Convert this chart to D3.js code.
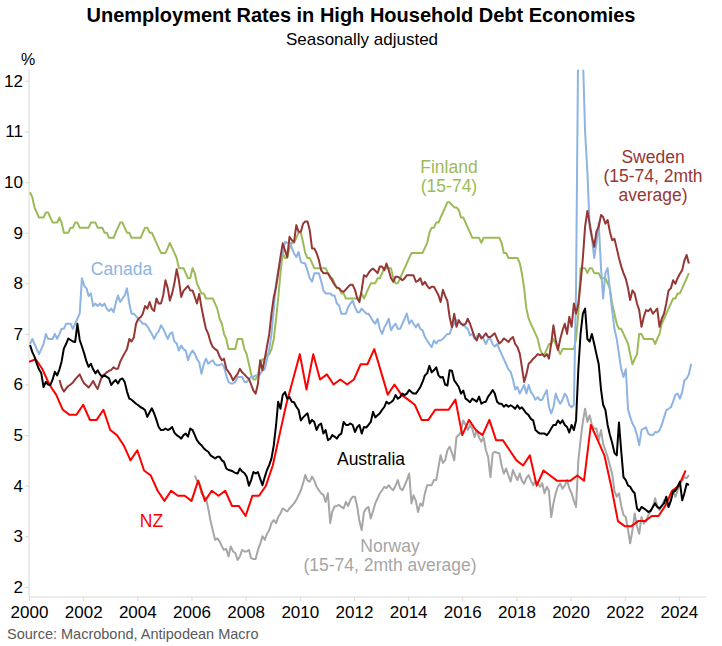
<!DOCTYPE html>
<html><head><meta charset="utf-8">
<script src="https://cdn.jsdelivr.net/npm/d3@7"></script>
<style>
body{margin:0;background:#fff}
text{font-family:"Liberation Sans",Arial,Helvetica,sans-serif}
</style>
</head><body>
<svg id="chart" width="722" height="646"></svg>
<script>
// ---------- DATA ----------
// Monthly series: first value = month given by *Start (year, month 1-12)
const australiaStart = [2000, 1];
const australia = [
6.78,6.64,6.55,6.41,6.3,6.22,5.95,6.05,6.0,5.99,6.1,6.25,
6.18,6.3,6.45,6.71,6.8,6.91,6.88,6.85,6.84,7.2,6.88,6.75,
6.61,6.45,6.35,6.41,6.3,6.22,6.28,6.2,6.15,6.18,6.15,6.12,
5.99,6.05,6.09,6.02,6.1,6.12,6.05,5.86,5.72,5.7,5.66,5.62,
5.59,5.55,5.53,5.49,5.36,5.45,5.53,5.43,5.3,5.16,5.1,5.1,
5.13,5.1,5.12,5.16,5.05,5.0,4.97,4.93,5.0,5.03,4.97,5.13,
5.1,5.0,4.9,4.84,4.8,4.74,4.7,4.67,4.6,4.57,4.54,4.57,
4.57,4.5,4.47,4.34,4.31,4.3,4.28,4.25,4.24,4.34,4.28,4.25,
4.18,4.0,4.11,4.27,4.24,4.27,4.14,4.01,4.17,4.31,4.41,4.54,
4.8,5.2,5.66,5.52,5.79,5.85,5.72,5.75,5.66,5.65,5.56,5.5,
5.29,5.35,5.39,5.43,5.23,5.3,5.26,5.1,5.2,5.23,5.03,5.1,
4.9,4.93,5.0,4.97,4.93,5.0,5.03,5.26,5.2,5.2,5.23,5.2,
5.06,5.16,5.2,5.03,5.16,5.15,5.2,5.26,5.46,5.35,5.39,5.43,
5.5,5.56,5.66,5.62,5.65,5.69,5.79,5.72,5.75,5.82,5.79,5.82,
5.89,5.85,5.82,5.82,5.88,5.95,6.05,6.18,6.22,6.37,6.24,6.28,
6.34,6.18,6.14,6.15,6.0,5.98,6.28,6.27,6.08,6.02,5.95,5.82,
5.88,5.72,5.69,5.65,5.72,5.69,5.66,5.76,5.62,5.65,5.66,5.76,
5.82,5.89,5.82,5.66,5.62,5.62,5.56,5.6,5.56,5.59,5.56,5.52,
5.59,5.52,5.55,5.49,5.43,5.39,5.32,5.29,5.1,5.06,5.03,5.03,
5.03,5.0,5.05,5.13,5.2,5.2,5.29,5.23,5.29,5.2,5.16,5.05,
5.2,5.1,5.29,6.3,7.0,7.4,7.5,6.9,6.85,7.0,6.8,6.6,
6.4,5.9,5.6,5.5,5.2,5.0,4.85,4.65,4.6,5.25,4.67,4.17,
4.11,4.0,3.98,3.9,3.85,3.55,3.5,3.58,3.55,3.52,3.48,3.5,
3.58,3.65,3.58,3.55,3.6,3.65,3.78,3.58,3.7,3.88,3.9,3.98,
4.08,3.71,3.85,4.04,4.01
];

const canadaStart = [2000, 1];
const canada = [
6.8,6.9,6.8,6.7,6.6,6.7,6.8,7.0,6.9,6.9,6.9,7.0,
6.9,7.0,7.1,7.1,7.2,7.2,7.2,7.1,7.2,7.3,7.4,8.1,
7.95,7.9,7.75,7.8,7.55,7.6,7.55,7.6,7.55,7.6,7.5,7.45,
7.5,7.43,7.6,7.76,7.63,7.7,7.76,7.9,7.6,7.4,7.4,7.35,
7.3,7.25,7.2,7.2,7.15,7.07,7.0,6.9,7.0,7.05,7.17,7.1,
7.0,6.9,7.0,7.03,6.85,6.81,6.67,6.77,6.7,6.67,6.48,6.6,
6.67,6.61,6.5,6.44,6.21,6.4,6.51,6.41,6.45,6.48,6.4,6.38,
6.38,6.41,6.35,6.18,6.05,6.02,6.02,6.05,6.15,6.15,6.15,6.05,
6.05,6.1,6.15,6.15,6.18,6.18,6.2,6.28,6.3,6.5,6.7,7.0,
7.5,8.0,8.26,8.45,8.59,8.82,8.8,8.82,8.7,8.59,8.52,8.62,
8.42,8.4,8.39,8.25,8.1,8.03,8.2,8.2,8.2,8.05,7.86,7.8,
7.8,7.8,7.76,7.76,7.6,7.56,7.4,7.4,7.4,7.53,7.6,7.66,
7.53,7.43,7.43,7.5,7.45,7.4,7.4,7.33,7.25,7.2,7.3,7.1,
7.0,7.13,7.2,7.3,7.07,7.15,7.2,7.1,7.1,7.2,7.3,7.4,
7.2,7.27,7.2,7.13,7.2,7.1,7.07,6.94,6.87,6.8,6.74,6.87,
6.81,6.87,6.87,6.9,6.95,7.0,7.0,7.13,7.2,7.27,7.27,7.2,
7.2,7.13,7.1,6.97,7.0,6.9,6.95,7.0,6.95,6.9,6.8,6.9,
6.9,6.8,6.75,6.8,6.7,6.6,6.5,6.4,6.3,6.25,6.1,5.9,
5.95,5.82,5.9,5.99,5.82,5.99,5.85,5.79,5.7,5.75,5.69,5.7,
5.8,5.89,5.56,5.43,5.55,5.82,5.7,5.62,5.7,5.82,5.75,5.59,
5.55,5.6,7.9,13.1,13.7,12.5,11.0,10.2,9.1,8.9,8.5,8.8,
9.2,8.3,7.7,8.2,8.3,7.86,7.47,7.1,6.9,6.6,6.3,6.15,
6.3,5.5,5.36,5.23,5.15,5.0,4.8,5.1,5.13,5.15,5.03,5.0,
5.0,5.06,5.05,5.1,5.2,5.35,5.49,5.52,5.55,5.66,5.8,5.82,
5.72,5.85,6.08,6.12,6.2,6.41
];

const finlandStart = [2000, 1];
const finland = [
9.8,9.7,9.5,9.4,9.3,9.3,9.3,9.4,9.4,9.3,9.2,9.2,
9.2,9.3,9.2,9.0,9.0,9.0,9.1,9.1,9.2,9.2,9.1,9.1,
9.1,9.1,9.1,9.2,9.2,9.2,9.1,9.1,9.1,9.0,9.0,8.9,
8.9,8.9,9.0,9.1,9.2,9.2,9.1,9.0,9.0,8.9,8.9,8.9,
8.9,8.9,9.0,9.1,9.1,9.0,9.0,8.9,8.8,8.7,8.6,8.6,
8.6,8.7,8.8,8.7,8.6,8.5,8.3,8.3,8.3,8.2,8.1,8.1,
8.3,8.2,8.0,7.9,7.8,7.8,7.7,7.7,7.7,7.7,7.6,7.5,
7.3,7.2,7.0,6.9,6.7,6.7,6.7,6.7,6.9,6.9,6.9,6.7,
6.6,6.4,6.2,6.1,6.1,6.2,6.4,6.5,6.5,6.6,6.6,6.7,
6.9,7.3,7.7,8.2,8.6,8.5,8.5,8.7,8.8,8.8,8.9,9.0,
9.0,8.8,8.6,8.5,8.5,8.4,8.3,8.3,8.3,8.3,8.3,8.3,
8.2,8.1,8.1,8.0,7.9,7.9,7.8,7.8,7.7,7.7,7.7,7.7,
7.7,7.7,7.7,7.8,7.7,7.8,7.9,8.0,8.0,8.0,8.1,8.1,
8.2,8.3,8.3,8.3,8.3,8.1,8.0,8.0,8.1,8.2,8.3,8.4,
8.5,8.6,8.6,8.6,8.6,8.6,8.6,8.7,8.8,9.0,9.1,9.1,
9.2,9.2,9.3,9.4,9.5,9.6,9.6,9.55,9.5,9.5,9.45,9.3,
9.3,9.2,9.1,9.0,8.9,8.9,8.9,8.9,8.8,8.9,8.9,8.9,
8.9,8.9,8.9,8.9,8.9,8.8,8.6,8.6,8.5,8.5,8.5,8.5,
8.5,8.4,8.2,7.9,7.5,7.3,7.2,7.1,7.0,6.9,6.7,6.6,
6.6,6.7,6.8,6.8,6.9,6.8,6.7,6.6,6.7,6.7,6.7,6.7,
6.7,6.7,6.9,7.4,8.3,8.3,8.3,8.2,8.3,8.3,8.2,8.2,
8.2,8.1,8.1,8.1,8.0,7.9,7.6,7.4,7.2,7.1,7.1,7.0,
6.9,6.8,6.6,6.4,6.5,6.6,7.0,7.0,6.9,6.9,6.9,6.9,
6.9,6.8,6.9,7.0,7.2,7.3,7.4,7.5,7.6,7.7,7.7,7.8,
7.8,7.9,8.0,8.1,8.2
];

const swedenStart = [2001, 2];
const sweden = [
6.09,5.95,5.86,5.92,5.97,6.0,6.04,6.1,6.15,6.2,6.1,
6.02,5.98,5.94,6.0,6.07,5.98,5.91,6.05,6.17,6.2,6.24,6.27,
6.29,6.34,6.31,6.31,6.45,6.54,6.62,6.7,6.9,6.85,6.93,7.2,
7.3,7.33,7.4,7.55,7.5,7.63,7.5,7.45,7.7,7.6,7.6,7.76,
8.06,7.9,7.66,7.8,8.0,8.28,8.06,7.73,7.85,7.9,7.95,7.86,
7.86,7.73,7.6,7.79,7.53,7.3,7.1,7.0,6.84,6.74,6.7,6.67,
6.55,6.48,6.51,6.31,6.25,6.18,6.08,6.15,6.21,6.31,6.24,6.2,
6.15,6.11,6.0,5.88,5.82,6.01,6.48,6.28,6.51,6.75,7.0,7.4,
7.73,7.93,8.2,8.52,8.79,8.65,8.52,8.92,8.85,8.82,9.15,9.02,
9.02,9.18,9.22,9.22,9.05,8.69,8.69,8.6,8.46,8.26,8.2,8.2,
8.2,8.13,8.05,7.97,7.92,7.9,7.85,7.83,7.88,7.93,7.97,7.97,
7.87,7.7,7.63,7.87,8.16,8.13,8.2,8.26,8.29,8.25,8.2,8.33,
8.33,8.26,8.39,8.26,8.1,8.03,8.13,8.13,8.1,8.06,8.1,8.16,
8.16,8.16,8.16,8.03,8.05,8.1,7.97,8.03,7.95,7.9,7.93,7.93,
7.85,7.76,7.63,7.87,7.75,7.65,7.33,7.13,7.4,7.14,7.27,7.2,
7.17,7.2,7.3,7.2,7.07,6.94,6.87,7.0,6.91,6.95,7.01,6.94,
6.94,6.98,7.01,6.9,6.81,6.85,6.91,6.88,6.84,6.9,6.94,6.8,
6.74,6.61,6.35,6.05,6.2,6.41,6.45,6.51,6.55,6.6,6.58,6.6,
6.55,6.6,6.51,6.81,7.17,6.88,6.68,6.9,7.07,7.2,7.0,7.34,
7.14,7.6,7.4,7.6,8.0,8.5,9.12,9.43,9.18,8.92,8.72,9.02,
9.12,9.35,9.31,9.18,9.25,9.02,8.85,8.88,8.69,8.5,8.33,8.2,
8.09,7.9,7.67,7.86,7.8,7.6,7.47,7.14,7.34,7.47,7.45,7.5,
7.4,7.45,7.5,7.14,7.3,7.4,7.6,7.86,7.9,8.06,7.99,8.1,
8.19,8.26,8.45,8.56,8.39
];

const norwayStart = [2006, 2];
const norway = [
4.2,4.1,4.05,3.85,3.8,3.75,3.55,3.3,3.12,2.93,2.96,
2.9,2.8,2.73,2.75,2.6,2.8,2.7,2.67,2.53,2.6,2.73,2.7,
2.7,2.73,2.57,2.55,2.55,2.73,2.85,3.0,2.93,3.05,3.12,3.26,
3.32,3.26,3.38,3.45,3.55,3.52,3.49,3.55,3.6,3.65,3.72,3.81,
3.91,4.05,4.21,4.1,4.08,4.18,4.1,3.98,3.91,3.85,3.82,3.68,
3.85,3.26,3.49,3.59,3.6,3.62,3.58,3.55,3.68,3.6,3.72,3.78,
3.78,3.58,3.3,3.12,3.48,3.55,3.58,3.35,3.5,3.65,3.75,3.85,
3.91,3.98,3.95,4.01,3.95,3.91,4.0,4.11,3.95,3.91,4.0,4.11,
4.24,3.65,3.81,3.7,3.48,3.65,3.6,3.85,4.01,4.01,4.01,4.11,
4.11,4.37,4.6,4.45,4.5,4.7,4.77,4.65,4.5,4.96,5.0,5.06,
5.29,5.2,5.1,5.2,5.13,4.96,5.1,4.95,4.87,4.96,4.7,4.57,
4.17,4.64,4.67,4.65,4.64,4.4,4.24,4.34,4.2,4.08,4.31,4.2,
4.11,4.24,4.1,4.04,4.15,4.21,4.1,4.01,4.1,4.05,3.98,4.05,
3.85,3.98,3.9,3.38,3.65,3.85,3.98,4.04,3.94,4.0,4.11,3.95,
3.85,3.7,3.58,4.5,4.9,5.26,5.52,5.26,5.39,5.2,5.13,5.13,
4.9,5.1,4.83,4.7,4.57,4.4,4.24,3.9,3.78,3.85,3.6,3.42,
3.38,3.12,2.86,3.12,3.45,3.2,3.05,3.38,3.25,3.3,3.42,3.5,
3.58,3.75,3.6,3.52,3.6,3.71,3.65,3.58,3.75,3.91,3.78,3.9,
4.04,4.1,4.17,4.15,4.21
];

// Quarterly series: first value = quarter given by nzStart (year, quarter)
const nzStart = [1999, 4];
const nz = [
6.45,
6.5,6.3,6.0,5.8, 5.5,5.4,5.4,5.6, 5.3,5.3,5.5,5.1, 5.0,4.8,4.5,4.7,
4.3,4.2,3.9,3.7, 3.9,3.8,3.8,3.7, 4.1,3.7,3.9,3.8, 3.9,3.6,3.6,3.4,
3.8,3.8,4.0,4.4, 5.0,5.6,6.1,6.6, 5.9,6.6,6.1,6.2, 6.0,6.1,6.0,6.1,
6.4,6.4,6.7,6.25, 5.8,6.0,5.8,5.7, 5.6,5.3,5.3,5.5, 5.5,5.5,5.7,5.0,
5.3,5.1,5.0,5.3, 4.9,4.9,4.7,4.5, 4.4,4.6,4.0,4.3, 4.2,4.1,4.1,4.1,
4.2,4.1,5.2,4.9, 4.6,4.0,3.3,3.2, 3.2,3.3,3.3,3.4, 3.4,3.6,3.9,4.0,
4.3
];

const yTicks = [2,3,4,5,6,7,8,9,10,11,12];
const xTickYears = [2000,2002,2004,2006,2008,2010,2012,2014,2016,2018,2020,2022,2024];

// ---------- CHART ----------
(function(){
const svg = d3.select("#chart");
const pL = 29, pR = 706, pT = 70.8, pB = 597;

const x = d3.scaleTime()
  .domain([new Date(2000,0,1), new Date(2025,0,1)])
  .range([pL, pR]);
const y = d3.scaleLinear().domain([1.8, 12.2]).range([pB, pT]);

function monthly(start, vals){
  return vals.map((v,i)=>({date:new Date(start[0], start[1]-1+i, 15), value:v}));
}
function quarterly(start, vals){
  return vals.map((v,i)=>({date:new Date(start[0], (start[1]-1+i)*3+3, 1), value:v}));
}

const series = [
  {name:"Norway",    color:"#a6a6a6", data:monthly(norwayStart, norway)},
  {name:"Finland",   color:"#9bbb59", data:monthly(finlandStart, finland)},
  {name:"Canada",    color:"#8db4e2", data:monthly(canadaStart, canada)},
  {name:"Sweden",    color:"#953735", data:monthly(swedenStart, sweden)},
  {name:"NZ",        color:"#ff0000", data:quarterly(nzStart, nz)},
  {name:"Australia", color:"#000000", data:monthly(australiaStart, australia)}
];

svg.append("text").attr("x",361).attr("y",22).attr("text-anchor","middle")
  .attr("font-size",20).attr("font-weight","bold").attr("fill","#000")
  .text("Unemployment Rates in High Household Debt Economies");
svg.append("text").attr("x",362).attr("y",45).attr("text-anchor","middle")
  .attr("font-size",17).attr("fill","#000").text("Seasonally adjusted");
svg.append("text").attr("x",21).attr("y",65).attr("font-size",16).attr("fill","#000").text("%");

const axisColor = "#d9d9d9";
const yAxis = svg.append("g").attr("transform",`translate(${pL},0)`)
  .call(d3.axisLeft(y).tickValues(yTicks).tickSize(4).tickSizeOuter(0).tickPadding(2).tickFormat(d3.format("d")));
yAxis.select(".domain").remove();
yAxis.selectAll(".tick line").attr("stroke",axisColor);
yAxis.selectAll(".tick text").attr("font-size",17).attr("fill","#000")
  .attr("font-family","Liberation Sans, Arial, sans-serif");

const xAxis = svg.append("g").attr("transform",`translate(0,${pB})`)
  .call(d3.axisBottom(x).tickValues(xTickYears.map(yr=>new Date(yr,0,1)))
    .tickSize(4).tickSizeOuter(0).tickPadding(5).tickFormat(d3.timeFormat("%Y")));
xAxis.select(".domain").remove();
xAxis.selectAll(".tick line").attr("stroke",axisColor);
xAxis.selectAll(".tick text").attr("font-size",17).attr("fill","#000")
  .attr("font-family","Liberation Sans, Arial, sans-serif");

svg.append("line").attr("x1",pL).attr("x2",pL).attr("y1",pT-1).attr("y2",pB)
  .attr("stroke",axisColor).attr("stroke-width",1);
svg.append("line").attr("x1",pL).attr("x2",pR).attr("y1",pB).attr("y2",pB)
  .attr("stroke",axisColor).attr("stroke-width",1);

svg.append("defs").append("clipPath").attr("id","plotclip")
  .append("rect").attr("x",pL).attr("y",pT-1).attr("width",pR-pL).attr("height",pB-pT+1);

const line = d3.line().x(d=>x(d.date)).y(d=>y(d.value));
const g = svg.append("g").attr("clip-path","url(#plotclip)");
series.forEach(s=>{
  g.append("path").datum(s.data).attr("d",line)
    .attr("fill","none").attr("stroke",s.color).attr("stroke-width",2)
    .attr("stroke-linejoin","round");
});

const labels = [
  {lines:["Canada"], color:"#8db4e2", x:121.5, y:275},
  {lines:["Finland","(15-74)"], color:"#9bbb59", x:449, y:173},
  {lines:["Sweden","(15-74, 2mth","average)"], color:"#953735", x:653, y:163},
  {lines:["Australia"], color:"#000000", x:371, y:465},
  {lines:["NZ"], color:"#ff0000", x:151.5, y:527},
  {lines:["Norway","(15-74, 2mth average)"], color:"#a6a6a6", x:390, y:552}
];
labels.forEach(l=>{
  const t = svg.append("text").attr("text-anchor","middle").attr("font-size",17.5).attr("fill",l.color);
  l.lines.forEach((ln,i)=>{
    t.append("tspan").attr("x",l.x).attr("y",l.y + i*18.8).text(ln);
  });
});

svg.append("text").attr("x",7).attr("y",639).attr("font-size",14.5).attr("fill","#595959")
  .text("Source: Macrobond, Antipodean Macro");
})();
</script>
</body></html>
